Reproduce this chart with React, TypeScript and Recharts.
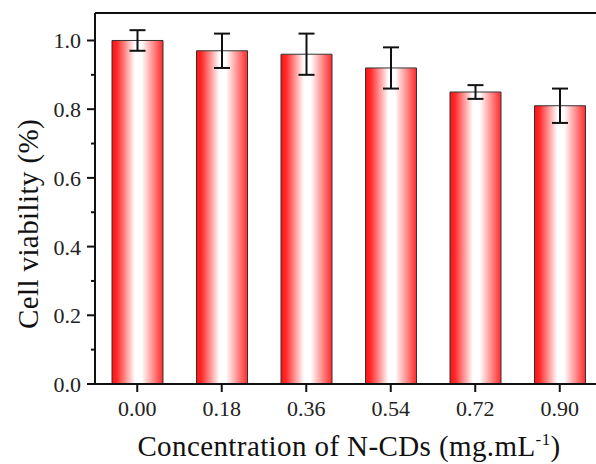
import React from "react";
import {
    Bar,
    BarChart,
    ErrorBar,
    ReferenceLine,
    XAxis,
    YAxis,
} from "recharts";

// Cell viability vs N-CDs concentration, with SD error bars.

const concentrations = ["0.00", "0.18", "0.36", "0.54", "0.72", "0.90"];
const viability = [1.0, 0.97, 0.96, 0.92, 0.85, 0.81];
const viabilityErr = [0.03, 0.05, 0.06, 0.06, 0.02, 0.05];
const yTicks = [0, 0.1, 0.2, 0.3, 0.4, 0.5, 0.6, 0.7, 0.8, 0.9, 1.0];
const yMax = 1.08;

const data = concentrations.map((c, i) => ({
    conc: c,
    value: viability[i],
    err: viabilityErr[i],
}));

const FONT = '"Liberation Serif", "Times New Roman", serif';
const TICK_SIZE = 8;
const TICK_GAP = 6;

function YTick(props: any) {
    const { x, y, payload } = props;
    const v = payload.value as number;
    const major = Math.round(v * 10) % 2 === 0;
    const axisX = x + TICK_SIZE + TICK_GAP;
    return (
        <g>
            <line x1={axisX - (major ? 8 : 4)} x2={axisX} y1={y} y2={y} stroke="#111" strokeWidth={2} />
            {major && (
                <text
                    x={x}
                    y={y + 8}
                    textAnchor="end"
                    fontFamily={FONT}
                    fontSize={22}
                    fill="#222"
                    style={{ fontSize: "22px", fontFamily: FONT }}
                >
                    {v.toFixed(1)}
                </text>
            )}
        </g>
    );
}

function XTick(props: any) {
    const { x, y, payload } = props;
    return (
        <g>
            <line x1={x} x2={x} y1={y - TICK_SIZE} y2={y} stroke="#111" strokeWidth={2} />
            <text
                x={x}
                y={y + 24}
                textAnchor="middle"
                fontFamily={FONT}
                fontSize={22}
                fill="#222"
                style={{ fontSize: "22px", fontFamily: FONT }}
            >
                {payload.value}
            </text>
        </g>
    );
}

const titleStyle = { fontFamily: FONT, fontSize: 29, letterSpacing: 0.4, fill: "#111" };

export default function App() {
    return (
        <div style={{ position: "absolute", left: 0, top: 0, width: 596, height: 464, overflow: "hidden", background: "#fff" }}>
            <BarChart
                width={620}
                height={464}
                data={data}
                margin={{ top: 13, right: 18, bottom: 0, left: 0 }}
            >
                <defs>
                    <linearGradient id="barGrad" x1="0" y1="0" x2="1" y2="0">
                        <stop offset="0%" stopColor="#ff1010" />
                        <stop offset="10%" stopColor="#ff2a2a" />
                        <stop offset="45%" stopColor="#ffffff" />
                        <stop offset="58%" stopColor="#ffffff" />
                        <stop offset="100%" stopColor="#ff2a2a" />
                    </linearGradient>
                </defs>
                <ReferenceLine y={yMax} stroke="#111" strokeWidth={2} ifOverflow="extendDomain" />
                <XAxis
                    dataKey="conc"
                    stroke="#111"
                    strokeWidth={2}
                    tickLine={false}
                    tickSize={TICK_SIZE}
                    tickMargin={0}
                    height={80}
                    interval={0}
                    tick={<XTick />}
                    label={{
                        content: () => (
                            <text x={349} y={456} textAnchor="middle" style={titleStyle}>
                                Concentration of N-CDs (mg.mL
                                <tspan dy={-11} fontSize={17}>-1</tspan>
                                <tspan dy={11}>)</tspan>
                            </text>
                        ),
                    }}
                />
                <YAxis
                    domain={[0, yMax]}
                    ticks={yTicks}
                    stroke="#111"
                    strokeWidth={2}
                    tickLine={false}
                    tickSize={TICK_SIZE}
                    tickMargin={TICK_GAP}
                    width={95}
                    interval={0}
                    tick={<YTick />}
                    label={{
                        content: () => (
                            <text
                                x={38}
                                y={224}
                                textAnchor="middle"
                                transform="rotate(-90 38 224)"
                                style={titleStyle}
                            >
                                Cell viability (%)
                            </text>
                        ),
                    }}
                />
                <Bar
                    dataKey="value"
                    fill="url(#barGrad)"
                    stroke="#333"
                    strokeWidth={1}
                    barSize={51}
                    isAnimationActive={false}
                >
                    <ErrorBar
                        dataKey="err"
                        width={8}
                        stroke="#111"
                        strokeWidth={2}
                        direction="y"
                        isAnimationActive={false}
                    />
                </Bar>
            </BarChart>
        </div>
    );
}
